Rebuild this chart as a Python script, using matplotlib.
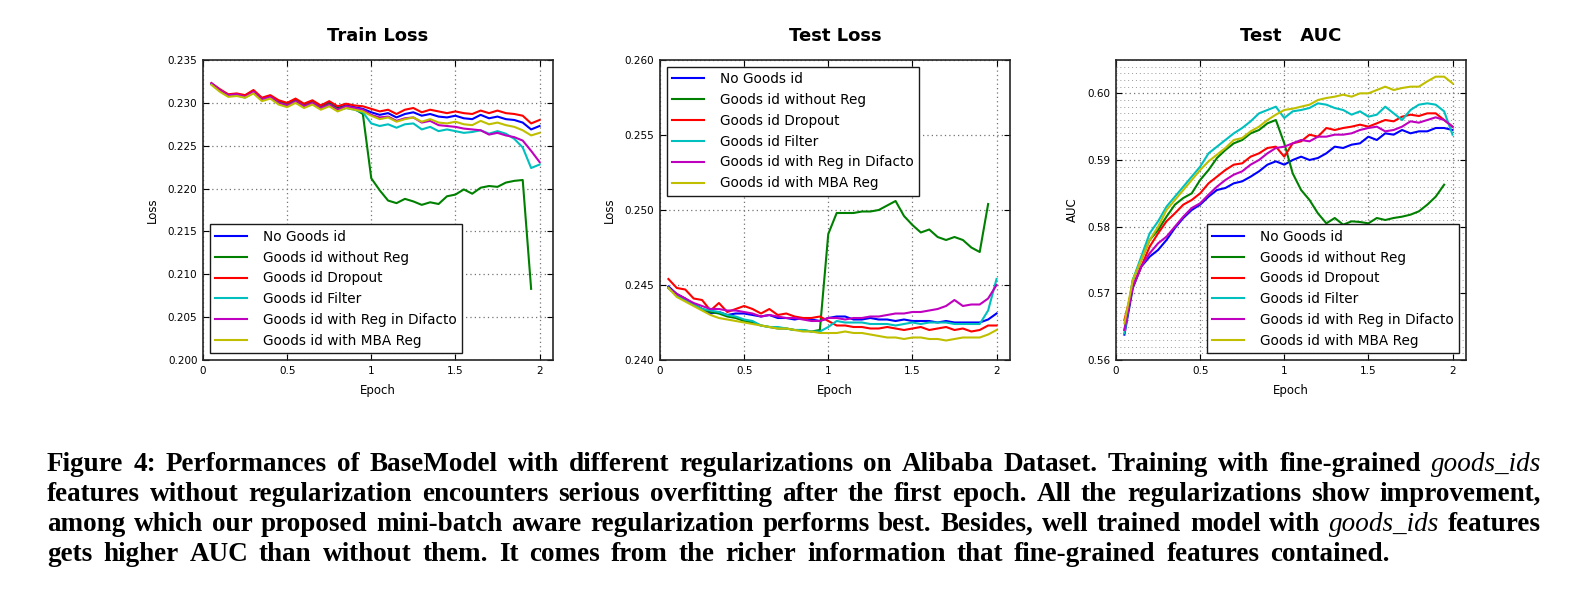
import matplotlib
matplotlib.use('Agg')
import matplotlib.pyplot as plt
from matplotlib.ticker import MultipleLocator, FuncFormatter

# epochs sampled every 0.05
epochs = [0.05, 0.10, 0.15, 0.20, 0.25, 0.30, 0.35, 0.40, 0.45, 0.50,
          0.55, 0.60, 0.65, 0.70, 0.75, 0.80, 0.85, 0.90, 0.95, 1.00,
          1.05, 1.10, 1.15, 1.20, 1.25, 1.30, 1.35, 1.40, 1.45, 1.50,
          1.55, 1.60, 1.65, 1.70, 1.75, 1.80, 1.85, 1.90, 1.95, 2.00]

names = ['No Goods id', 'Goods id without Reg', 'Goods id Dropout',
         'Goods id Filter', 'Goods id with Reg in Difacto', 'Goods id with MBA Reg']
colors = ['b', 'g', 'r', 'c', 'm', 'y']

# ---- Train Loss ----
train_none = [0.2322, 0.2315, 0.2309, 0.2310, 0.2308, 0.2314, 0.2305, 0.2308, 0.2302, 0.2299,
              0.2304, 0.2298, 0.2302, 0.2296, 0.2300, 0.2294, 0.2297, 0.2295, 0.2293, 0.2289,
              0.2286, 0.2288, 0.2283, 0.2287, 0.2289, 0.2285, 0.2287, 0.2284, 0.2283, 0.2285,
              0.2282, 0.2281, 0.2286, 0.2282, 0.2284, 0.2281, 0.2280, 0.2277, 0.2269, 0.2273]
train_noreg = [0.2322, 0.2315, 0.2309, 0.2310, 0.2307, 0.2313, 0.2304, 0.2307, 0.2301, 0.2298,
               0.2303, 0.2297, 0.2301, 0.2295, 0.2299, 0.2293, 0.2296, 0.2293, 0.2287, 0.2212,
               0.2198, 0.2186, 0.2183, 0.2188, 0.2185, 0.2181, 0.2184, 0.2182, 0.2191, 0.2193,
               0.2199, 0.2194, 0.2201, 0.2203, 0.2202, 0.2207, 0.2209, 0.2210, 0.2083]
train_dropout = [0.2323, 0.2316, 0.2310, 0.2311, 0.2309, 0.2315, 0.2306, 0.2309, 0.2303, 0.2300,
                 0.2305, 0.2299, 0.2303, 0.2297, 0.2302, 0.2296, 0.2299, 0.2297, 0.2296, 0.2293,
                 0.2290, 0.2292, 0.2287, 0.2292, 0.2294, 0.2289, 0.2292, 0.2290, 0.2288, 0.2290,
                 0.2288, 0.2287, 0.2291, 0.2288, 0.2291, 0.2288, 0.2287, 0.2285, 0.2276, 0.2280]
train_filter = [0.2322, 0.2314, 0.2308, 0.2309, 0.2306, 0.2312, 0.2303, 0.2306, 0.2299, 0.2296,
                0.2301, 0.2295, 0.2299, 0.2293, 0.2297, 0.2291, 0.2294, 0.2292, 0.2289, 0.2276,
                0.2273, 0.2275, 0.2271, 0.2275, 0.2276, 0.2269, 0.2272, 0.2267, 0.2269, 0.2267,
                0.2265, 0.2266, 0.2268, 0.2264, 0.2267, 0.2264, 0.2258, 0.2248, 0.2224, 0.2228]
train_difacto = [0.2323, 0.2315, 0.2309, 0.2310, 0.2307, 0.2313, 0.2304, 0.2307, 0.2300, 0.2297,
                 0.2302, 0.2296, 0.2300, 0.2294, 0.2298, 0.2292, 0.2296, 0.2294, 0.2292, 0.2286,
                 0.2283, 0.2284, 0.2279, 0.2282, 0.2283, 0.2277, 0.2279, 0.2274, 0.2273, 0.2272,
                 0.2270, 0.2269, 0.2268, 0.2263, 0.2265, 0.2262, 0.2260, 0.2256, 0.2244, 0.2231]
train_mba = [0.2321, 0.2313, 0.2307, 0.2308, 0.2306, 0.2311, 0.2302, 0.2305, 0.2298, 0.2295,
             0.2300, 0.2294, 0.2298, 0.2292, 0.2296, 0.2290, 0.2294, 0.2292, 0.2290, 0.2285,
             0.2281, 0.2283, 0.2278, 0.2281, 0.2283, 0.2278, 0.2281, 0.2277, 0.2276, 0.2278,
             0.2275, 0.2274, 0.2279, 0.2275, 0.2277, 0.2274, 0.2272, 0.2268, 0.2262, 0.2265]

# ---- Test Loss ----
test_none = [0.2449, 0.2444, 0.2441, 0.2437, 0.2434, 0.2431, 0.2432, 0.2430, 0.2431, 0.2431,
             0.2430, 0.2429, 0.2430, 0.2428, 0.2428, 0.2427, 0.2428, 0.2427, 0.2426, 0.2428,
             0.2429, 0.2429, 0.2427, 0.2427, 0.2428, 0.2427, 0.2427, 0.2426, 0.2427, 0.2426,
             0.2426, 0.2426, 0.2425, 0.2426, 0.2425, 0.2425, 0.2425, 0.2425, 0.2427, 0.2431]
test_noreg = [0.2448, 0.2443, 0.2440, 0.2437, 0.2434, 0.2432, 0.2431, 0.2429, 0.2428, 0.2426,
              0.2425, 0.2423, 0.2422, 0.2421, 0.2421, 0.2420, 0.2420, 0.2419, 0.2420, 0.2484,
              0.2498, 0.2498, 0.2498, 0.2499, 0.2499, 0.2500, 0.2503, 0.2506, 0.2496, 0.2490,
              0.2485, 0.2487, 0.2482, 0.2480, 0.2482, 0.2480, 0.2475, 0.2472, 0.2504]
test_dropout = [0.2454, 0.2448, 0.2447, 0.2441, 0.2440, 0.2433, 0.2438, 0.2432, 0.2434, 0.2436,
                0.2434, 0.2431, 0.2434, 0.2430, 0.2431, 0.2429, 0.2428, 0.2428, 0.2429, 0.2426,
                0.2423, 0.2423, 0.2422, 0.2422, 0.2421, 0.2421, 0.2422, 0.2421, 0.2420, 0.2421,
                0.2422, 0.2420, 0.2421, 0.2422, 0.2420, 0.2421, 0.2419, 0.2420, 0.2423, 0.2423]
test_filter = [0.2448, 0.2443, 0.2440, 0.2437, 0.2434, 0.2433, 0.2432, 0.2430, 0.2429, 0.2427,
               0.2426, 0.2423, 0.2422, 0.2422, 0.2421, 0.2420, 0.2420, 0.2419, 0.2419, 0.2422,
               0.2426, 0.2425, 0.2425, 0.2425, 0.2424, 0.2424, 0.2424, 0.2423, 0.2424, 0.2425,
               0.2424, 0.2425, 0.2425, 0.2425, 0.2424, 0.2424, 0.2424, 0.2424, 0.2433, 0.2454]
test_difacto = [0.2448, 0.2444, 0.2441, 0.2438, 0.2436, 0.2434, 0.2434, 0.2433, 0.2433, 0.2432,
                0.2431, 0.2429, 0.2430, 0.2429, 0.2428, 0.2428, 0.2427, 0.2426, 0.2426, 0.2428,
                0.2428, 0.2427, 0.2428, 0.2428, 0.2429, 0.2429, 0.2430, 0.2431, 0.2431, 0.2432,
                0.2432, 0.2433, 0.2434, 0.2436, 0.2440, 0.2436, 0.2437, 0.2437, 0.2441, 0.2450]
test_mba = [0.2448, 0.2442, 0.2439, 0.2436, 0.2433, 0.2430, 0.2428, 0.2427, 0.2426, 0.2425,
            0.2424, 0.2423, 0.2422, 0.2421, 0.2421, 0.2420, 0.2419, 0.2419, 0.2418, 0.2418,
            0.2418, 0.2419, 0.2418, 0.2418, 0.2417, 0.2416, 0.2415, 0.2415, 0.2414, 0.2415,
            0.2415, 0.2414, 0.2414, 0.2413, 0.2414, 0.2415, 0.2415, 0.2415, 0.2417, 0.2420]

# ---- Test AUC ----
auc_none = [0.5638, 0.5708, 0.5740, 0.5755, 0.5765, 0.5780, 0.5798, 0.5813, 0.5825, 0.5833,
            0.5845, 0.5855, 0.5858, 0.5865, 0.5868, 0.5875, 0.5883, 0.5893, 0.5898, 0.5893,
            0.5900, 0.5905, 0.5900, 0.5903, 0.5910, 0.5920, 0.5918, 0.5923, 0.5925, 0.5935,
            0.5930, 0.5940, 0.5938, 0.5945, 0.5940, 0.5943, 0.5943, 0.5948, 0.5948, 0.5945]
auc_noreg = [0.5645, 0.5720, 0.5750, 0.5780, 0.5795, 0.5815, 0.5833, 0.5843, 0.5850, 0.5870,
             0.5885, 0.5903, 0.5915, 0.5925, 0.5930, 0.5940, 0.5945, 0.5955, 0.5960, 0.5925,
             0.5880, 0.5855, 0.5840, 0.5820, 0.5805, 0.5813, 0.5803, 0.5808, 0.5807, 0.5805,
             0.5813, 0.5810, 0.5813, 0.5815, 0.5818, 0.5823, 0.5833, 0.5845, 0.5863]
auc_dropout = [0.5660, 0.5710, 0.5740, 0.5770, 0.5790, 0.5808, 0.5820, 0.5833, 0.5840, 0.5850,
               0.5865, 0.5875, 0.5885, 0.5893, 0.5895, 0.5905, 0.5910, 0.5918, 0.5920, 0.5905,
               0.5925, 0.5928, 0.5938, 0.5935, 0.5948, 0.5945, 0.5948, 0.5950, 0.5953, 0.5950,
               0.5955, 0.5960, 0.5958, 0.5965, 0.5968, 0.5966, 0.5970, 0.5970, 0.5960, 0.5950]
auc_filter = [0.5640, 0.5720, 0.5755, 0.5790, 0.5808, 0.5830, 0.5845, 0.5860, 0.5875, 0.5890,
              0.5910, 0.5920, 0.5930, 0.5940, 0.5948, 0.5958, 0.5970, 0.5975, 0.5980, 0.5963,
              0.5973, 0.5975, 0.5978, 0.5985, 0.5983, 0.5978, 0.5975, 0.5968, 0.5973, 0.5965,
              0.5968, 0.5980, 0.5970, 0.5960, 0.5975, 0.5983, 0.5985, 0.5983, 0.5973, 0.5938]
auc_difacto = [0.5645, 0.5710, 0.5740, 0.5760, 0.5775, 0.5785, 0.5800, 0.5815, 0.5828, 0.5835,
               0.5848, 0.5860, 0.5870, 0.5878, 0.5883, 0.5893, 0.5900, 0.5910, 0.5918, 0.5920,
               0.5925, 0.5930, 0.5928, 0.5935, 0.5935, 0.5938, 0.5938, 0.5940, 0.5945, 0.5948,
               0.5950, 0.5943, 0.5945, 0.5950, 0.5958, 0.5956, 0.5960, 0.5964, 0.5960, 0.5950]
auc_mba = [0.5655, 0.5720, 0.5750, 0.5780, 0.5800, 0.5825, 0.5840, 0.5855, 0.5870, 0.5885,
           0.5898, 0.5908, 0.5918, 0.5930, 0.5933, 0.5943, 0.5950, 0.5960, 0.5968, 0.5975,
           0.5977, 0.5980, 0.5983, 0.5990, 0.5993, 0.5995, 0.5998, 0.5995, 0.6000, 0.6000,
           0.6005, 0.6010, 0.6005, 0.6008, 0.6010, 0.6010, 0.6018, 0.6025, 0.6025, 0.6015]

caption_lines = [
    "Figure 4: Performances of BaseModel with different regularizations on Alibaba Dataset. Training with fine-grained *goods_ids*",
    "features without regularization encounters serious overfitting after the first epoch. All the regularizations show improvement,",
    "among which our proposed mini-batch aware regularization performs best. Besides, well trained model with *goods_ids* features",
    "gets higher AUC than without them. It comes from the richer information that fine-grained features contained.",
]


def epoch_fmt(v, pos):
    return '%g' % v


def draw_panel(ax, series, title, ylabel, ylim, ystep, yfmt, legend_loc, minor_y=None):
    for vals, name, c in zip(series, names, colors):
        ax.plot(epochs[:len(vals)], vals, color=c, lw=1.5, label=name)
    ax.set_xlim(0, 2.08)
    ax.set_ylim(*ylim)
    ax.xaxis.set_major_locator(MultipleLocator(0.5))
    ax.xaxis.set_major_formatter(FuncFormatter(epoch_fmt))
    ax.yaxis.set_major_locator(MultipleLocator(ystep))
    ax.yaxis.set_major_formatter(FuncFormatter(lambda v, p: yfmt % v))
    ax.grid(True, which='major', color='0.45', linestyle=(0, (1, 2.5)), linewidth=0.9)
    if minor_y:
        ax.yaxis.set_minor_locator(MultipleLocator(minor_y))
        ax.grid(True, which='minor', axis='y', color='0.6', linestyle=(0, (1, 3)), linewidth=0.7)
        ax.tick_params(which='minor', length=0)
    ax.tick_params(direction='in', top=True, right=True, labelsize=7.5, length=4, pad=4)
    ax.set_title(title, fontsize=13, fontweight='bold', pad=14)
    ax.set_xlabel('Epoch', fontsize=8.5, labelpad=6)
    ax.set_ylabel(ylabel, fontsize=8.5, labelpad=6)
    for s in ax.spines.values():
        s.set_color('0.15')
        s.set_linewidth(1.2)
    leg = ax.legend(loc=legend_loc, fontsize=9.8, fancybox=False, framealpha=1,
                    edgecolor='0.1', handlelength=2.3, handletextpad=1.2,
                    borderpad=0.4, labelspacing=0.5)
    leg.get_frame().set_linewidth(1.0)


def draw_caption(fig, line, y_px, x0_px, x1_px, size=19.5):
    renderer = fig.canvas.get_renderer()
    W, H = fig.bbox.width, fig.bbox.height
    words = line.split(' ')
    texts = []
    for w in words:
        italic = w.startswith('*')
        t = fig.text(0, 1 - y_px / H, w.strip('*'), fontsize=size, va='baseline',
                     family='Liberation Serif',
                     fontweight='normal' if italic else 'bold',
                     fontstyle='italic' if italic else 'normal')
        texts.append(t)
    widths = [t.get_window_extent(renderer).width for t in texts]
    gap = ((x1_px - x0_px) - sum(widths)) / (len(words) - 1)
    x = x0_px
    for t, wd in zip(texts, widths):
        t.set_x(x / W)
        x += wd + gap


fig = plt.figure(figsize=(15.85, 6.09), dpi=100)
fig.patch.set_facecolor('white')

ax1 = fig.add_axes([203 / 1585, 1 - 360 / 609, 350 / 1585, 300 / 609])
ax2 = fig.add_axes([660 / 1585, 1 - 360 / 609, 350 / 1585, 300 / 609])
ax3 = fig.add_axes([1116 / 1585, 1 - 360 / 609, 350 / 1585, 300 / 609])

draw_panel(ax1, [train_none, train_noreg, train_dropout, train_filter, train_difacto, train_mba],
           'Train Loss', 'Loss', (0.200, 0.235), 0.005, '%.3f', 'lower left')
draw_panel(ax2, [test_none, test_noreg, test_dropout, test_filter, test_difacto, test_mba],
           'Test Loss', 'Loss', (0.240, 0.260), 0.005, '%.3f', 'upper left')
draw_panel(ax3, [auc_none, auc_noreg, auc_dropout, auc_filter, auc_difacto, auc_mba],
           'Test   AUC', 'AUC', (0.560, 0.605), 0.01, '%.2f', 'lower right', minor_y=0.001)

fig.canvas.draw()
baselines = [471, 501, 531, 561]
line_ends = [1541, 1541, 1541, 1390]
for i, line in enumerate(caption_lines):
    draw_caption(fig, line, baselines[i], 47, line_ends[i])

fig.savefig('out.png', dpi=100, facecolor='white')
